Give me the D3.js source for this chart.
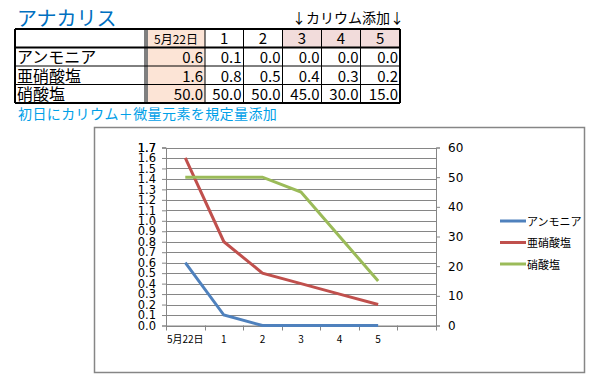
<!DOCTYPE html>
<html><head><meta charset="utf-8">
<script src="https://cdn.jsdelivr.net/npm/d3@7"></script>
<style>body{margin:0;background:#fff}svg{display:block}</style>
</head><body>
<svg id="c" width="599" height="388"></svg>
<script>
const categories = ["5月22日","1","2","3","4","5"];
const seriesNames = ["アンモニア","亜硝酸塩","硝酸塩"];
const ammonia = [0.6,0.1,0.0,0.0,0.0,0.0];
const nitrite = [1.6,0.8,0.5,0.4,0.3,0.2];
const nitrate = [50.0,50.0,50.0,45.0,30.0,15.0];
const leftTicks = d3.range(0,18).map(i=>i/10);
const rightTicks = [0,10,20,30,40,50,60];
const colors = ["#4F81BD","#C0504D","#9BBB59"];
const tableRows = [ammonia, nitrite, nitrate];

const svg = d3.select("#c");
const jp = "'Noto Sans CJK JP', sans-serif";

svg.append("text").attr("x",17).attr("y",26).attr("font-family",jp).attr("font-size",20)
  .attr("fill","#0070C0").text("アナカリス");
svg.append("text").attr("x",292).attr("y",23).attr("font-family",jp).attr("font-size",14)
  .attr("fill","#000").text("↓カリウム添加↓");
svg.append("text").attr("x",18).attr("y",119).attr("font-family",jp).attr("font-size",14)
  .attr("letter-spacing",0.4).attr("fill","#00A0E8").text("初日にカリウム＋微量元素を規定量添加");

const colEdges = [15,147,205,243.5,282.5,321.5,360.5,400];
const rowEdges = [29,47.5,66,84.5,103];
const tg = svg.append("g");
tg.append("rect").attr("x",colEdges[1]+1).attr("y",rowEdges[0]).attr("width",colEdges[2]-colEdges[1]-1)
  .attr("height",rowEdges[4]-rowEdges[0]).attr("fill","#FCE4D6");
for (let c=4;c<7;c++){
  tg.append("rect").attr("x",colEdges[c]).attr("y",rowEdges[0]).attr("width",colEdges[c+1]-colEdges[c])
    .attr("height",rowEdges[1]-rowEdges[0]).attr("fill","#F2DCDB");
}
rowEdges.forEach((y,i)=>{
  const thick = (i===0||i===1||i===4);
  tg.append("line").attr("x1",colEdges[0]).attr("x2",colEdges[7]).attr("y1",y).attr("y2",y)
    .attr("stroke","#000").attr("stroke-width",thick?2:1);
});
colEdges.forEach((x,i)=>{
  const thick = (i===0||i===7);
  tg.append("line").attr("x1",x).attr("x2",x).attr("y1",rowEdges[0]).attr("y2",rowEdges[4])
    .attr("stroke","#000").attr("stroke-width",thick?2:1);
});
tg.append("line").attr("x1",145).attr("x2",145).attr("y1",rowEdges[0]).attr("y2",rowEdges[4])
  .attr("stroke","#000").attr("stroke-width",1);
categories.forEach((c,i)=>{
  const x0 = colEdges[i+1], x1 = colEdges[i+2];
  tg.append("text").attr("x",(x0+x1)/2).attr("y",rowEdges[1]-4).attr("text-anchor","middle")
    .attr("font-family",jp).attr("font-size",i===0?12:15).attr("fill","#000").text(c);
});
seriesNames.forEach((n,r)=>{
  tg.append("text").attr("x",17).attr("y",rowEdges[r+2]-3).attr("font-family",jp)
    .attr("font-size",16).attr("fill","#000").text(n);
  tableRows[r].forEach((v,i)=>{
    tg.append("text").attr("x",colEdges[i+2]-2).attr("y",rowEdges[r+2]-3).attr("text-anchor","end")
      .attr("font-family",jp).attr("font-size",15).attr("fill","#000").text(v.toFixed(1));
  });
});

svg.append("rect").attr("x",94.5).attr("y",127.5).attr("width",490).attr("height",245)
  .attr("fill","#fff").attr("stroke","#868686").attr("stroke-width",1.5);

const L=166, R=436, T=147.5, B=325.5;
const bandDomain = categories.concat([""]);
const x = d3.scaleBand().domain(bandDomain).range([L,R]);
const yL = d3.scaleLinear().domain([0,1.7]).range([B,T]);
const yR = d3.scaleLinear().domain([0,60]).range([B,T]);

svg.append("g").selectAll("line").data(leftTicks.concat([1.7])).join("line")
  .attr("x1",L).attr("x2",R).attr("y1",d=>Math.round(yL(d))+0.5).attr("y2",d=>Math.round(yL(d))+0.5)
  .attr("stroke","#868686").attr("stroke-width",1);

const axisFont = "'DejaVu Sans', Verdana, sans-serif";
const gl = svg.append("g").attr("transform",`translate(${L},0)`)
  .call(d3.axisLeft(yL).tickValues(leftTicks.concat([1.7])).tickFormat(d3.format(".1f")).tickSize(4).tickPadding(6));
const gr = svg.append("g").attr("transform",`translate(${R},0)`)
  .call(d3.axisRight(yR).tickValues(rightTicks).tickFormat(d3.format("d")).tickSize(4).tickPadding(8));
const gx = svg.append("g").attr("transform",`translate(0,${B})`)
  .call(d3.axisBottom(x).tickSize(0).tickPadding(10).tickFormat(d=>d));
svg.append("g").selectAll("line").data(bandDomain.map(d=>x(d)).concat([R])).join("line")
  .attr("x1",d=>Math.round(d)+0.5).attr("x2",d=>Math.round(d)+0.5).attr("y1",B).attr("y2",B+5)
  .attr("stroke","#868686");
[gl,gr,gx].forEach(g=>{
  g.selectAll("path.domain").attr("stroke","#868686");
  g.selectAll(".tick line").attr("stroke","#868686");
  g.selectAll("text").attr("font-family",axisFont).attr("font-size",12).attr("fill","#000");
});
gl.selectAll("text").attr("font-size",11.5);
gx.selectAll("text").attr("font-size",10).attr("font-family",jp);

const cx = d=>x(d)+x.bandwidth()/2;
const mk = (vals, y)=>d3.line().x((d,i)=>cx(categories[i])).y(d=>y(d))(vals);
svg.append("path").attr("d",mk(ammonia,yL)).attr("fill","none").attr("stroke",colors[0]).attr("stroke-width",3);
svg.append("path").attr("d",mk(nitrite,yL)).attr("fill","none").attr("stroke",colors[1]).attr("stroke-width",3);
svg.append("path").attr("d",mk(nitrate,yR)).attr("fill","none").attr("stroke",colors[2]).attr("stroke-width",3);

const lg = svg.append("g");
seriesNames.forEach((n,i)=>{
  const y = 221 + i*21.5;
  lg.append("line").attr("x1",500).attr("x2",526).attr("y1",y).attr("y2",y)
    .attr("stroke",colors[i]).attr("stroke-width",3);
  lg.append("text").attr("x",527).attr("y",y+4.5).attr("font-family",jp).attr("font-size",11)
    .attr("fill","#000").text(n);
});
</script>
</body></html>
